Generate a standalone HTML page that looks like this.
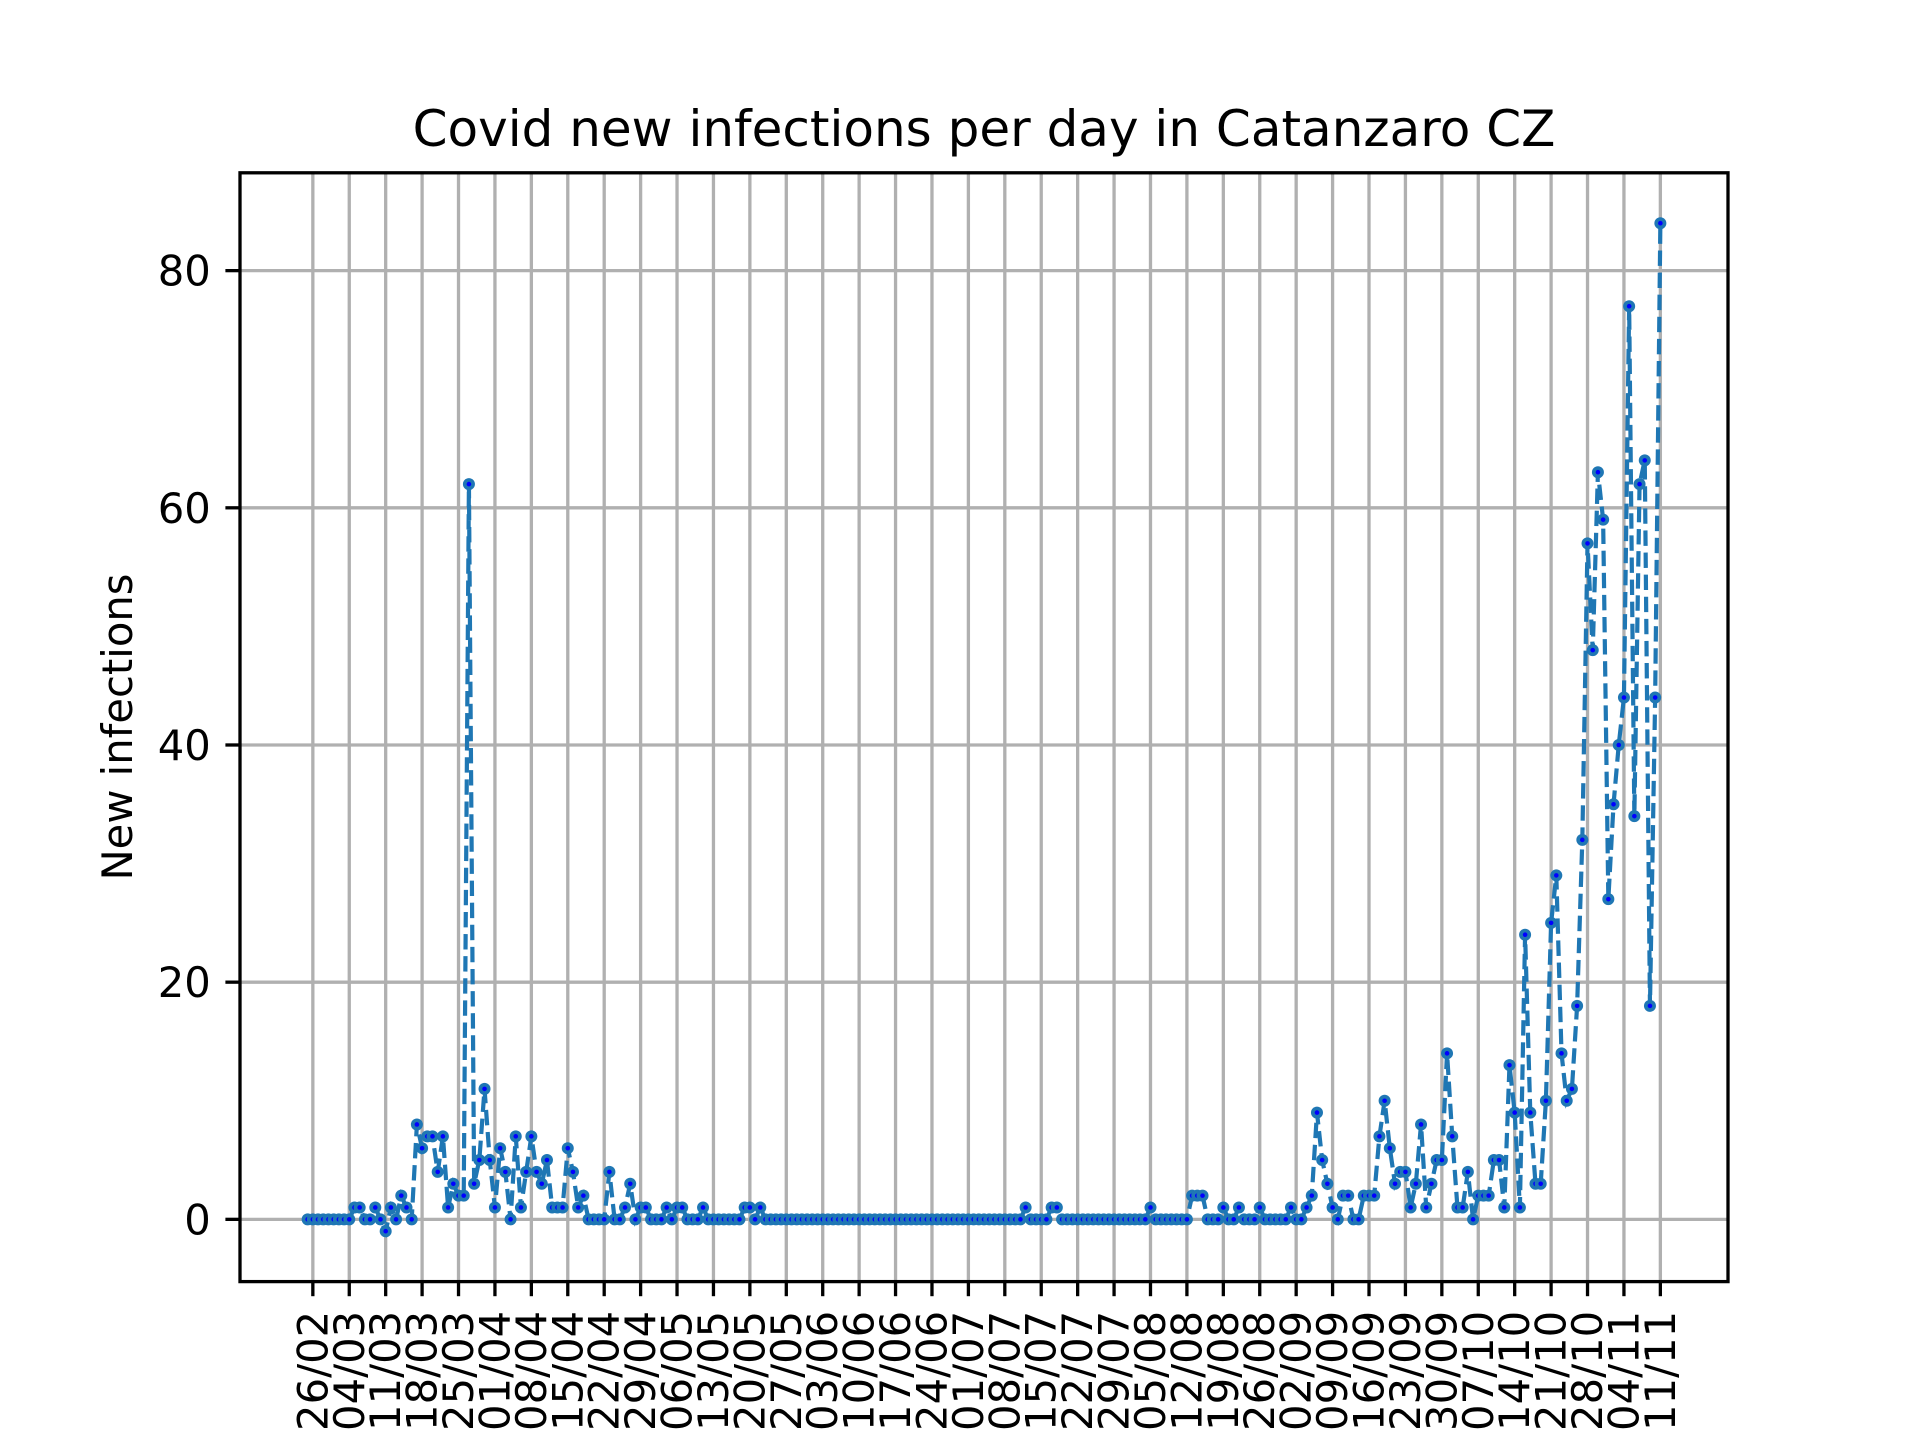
<!DOCTYPE html>
<html><head><meta charset="utf-8">
<style>
html,body{margin:0;padding:0;background:#fff;}
svg{display:block;font-family:"DejaVu Sans","Liberation Sans",sans-serif;}
</style></head>
<body>
<svg id="chart" width="1920" height="1440" viewBox="0 0 1920 1440" xmlns="http://www.w3.org/2000/svg">
<rect x="0" y="0" width="1920" height="1440" fill="#fff"/>
<text x="984" y="146" font-size="50" text-anchor="middle">Covid new infections per day in Catanzaro CZ</text>
<text transform="translate(132,727) rotate(-90)" font-size="41.7" text-anchor="middle">New infections</text>
<g id="grid"></g>
<g id="series"></g>
<g id="axes"></g>
</svg>
<script>
const startDate = [2020, 1, 25];
const values = [0,0,0,0,0,0,0,0,0,1,1,0,0,1,0,-1,1,0,2,1,0,8,6,7,7,4,7,1,3,2,2,62,3,5,11,5,1,6,4,0,7,1,4,7,4,3,5,1,1,1,6,4,1,2,0,0,0,0,4,0,0,1,3,0,1,1,0,0,0,1,0,1,1,0,0,0,1,0,0,0,0,0,0,0,1,1,0,1,0,0,0,0,0,0,0,0,0,0,0,0,0,0,0,0,0,0,0,0,0,0,0,0,0,0,0,0,0,0,0,0,0,0,0,0,0,0,0,0,0,0,0,0,0,0,0,0,0,0,1,0,0,0,0,1,1,0,0,0,0,0,0,0,0,0,0,0,0,0,0,0,0,0,1,0,0,0,0,0,0,0,2,2,2,0,0,0,1,0,0,1,0,0,0,1,0,0,0,0,0,1,0,0,1,2,9,5,3,1,0,2,2,0,0,2,2,2,7,10,6,3,4,4,1,3,8,1,3,5,5,14,7,1,1,4,0,2,2,2,5,5,1,13,9,1,24,9,3,3,10,25,29,14,10,11,18,32,57,48,63,59,27,35,40,44,77,34,62,64,18,44,84];
const yTicks = [0, 20, 40, 60, 80];
const xTickStep = 7;
const xTickFirst = 1;

const NS = "http://www.w3.org/2000/svg";
const L = 240, R = 1728, T = 172.8, B = 1281.6;
const n = values.length;
const xmin = -(n - 1) * 0.05, xmax = (n - 1) * 1.05;
const vmin = Math.min(...values), vmax = Math.max(...values);
const ymin = vmin - (vmax - vmin) * 0.05, ymax = vmax + (vmax - vmin) * 0.05;
function xs(d) { return L + (d - xmin) / (xmax - xmin) * (R - L); }
function ys(v) { return B - (v - ymin) / (ymax - ymin) * (B - T); }
function mk(tag, attrs, parent) {
  const e = document.createElementNS(NS, tag);
  for (const k in attrs) e.setAttribute(k, attrs[k]);
  parent.appendChild(e);
  return e;
}
const grid = document.getElementById('grid');
const axes = document.getElementById('axes');
const series = document.getElementById('series');

for (let d = xTickFirst; d < n; d += xTickStep) {
  const x = xs(d);
  const g = mk('line', {x1: x, x2: x, y1: T, y2: B, stroke: '#b0b0b0', 'stroke-width': 3.3}, grid);
  
  
  const t = mk('line', {x1: x, x2: x, y1: B, y2: B + 14.6, stroke: '#000', 'stroke-width': 3.3}, axes);
  
  
  const dt = new Date(startDate[0], startDate[1], startDate[2] + d);
  const lbl = String(dt.getDate()).padStart(2, '0') + '/' + String(dt.getMonth() + 1).padStart(2, '0');
  const tx = mk('text', {transform: 'translate(' + (x + 14.5) + ',' + (B + 29.2) + ') rotate(-90)', 'font-size': 41.7, 'text-anchor': 'end'}, axes);
  tx.textContent = lbl;
  
  
}
yTicks.forEach(v => {
  const y = ys(v);
  const g = mk('line', {x1: L, x2: R, y1: y, y2: y, stroke: '#b0b0b0', 'stroke-width': 3.3}, grid);
  
  
  const t = mk('line', {x1: L - 14.6, x2: L, y1: y, y2: y, stroke: '#000', 'stroke-width': 3.3}, axes);
  
  
  const tx = mk('text', {x: L - 29.2, y: y + 15, 'font-size': 41.7, 'text-anchor': 'end'}, axes);
  tx.textContent = String(v);
  
  
});
const fr = mk('rect', {x: L, y: T, width: R - L, height: B - T, fill: 'none', stroke: '#000', 'stroke-width': 3.3}, axes);



const pts = values.map((v, i) => xs(i).toFixed(2) + ',' + ys(v).toFixed(2)).join(' ');
const pl = mk('polyline', {points: pts, fill: 'none', stroke: '#1f77b4', 'stroke-width': 4.2, 'stroke-dasharray': '15.4 6.7'}, series);


values.forEach((v, i) => {
  const c = mk('circle', {cx: xs(i), cy: ys(v), r: 6, fill: '#1f77b4'}, series);
  
  
  const c2 = mk('circle', {cx: xs(i), cy: ys(v), r: 2.3, fill: '#0000ff'}, series);
  
  
});
</script>
</body></html>
